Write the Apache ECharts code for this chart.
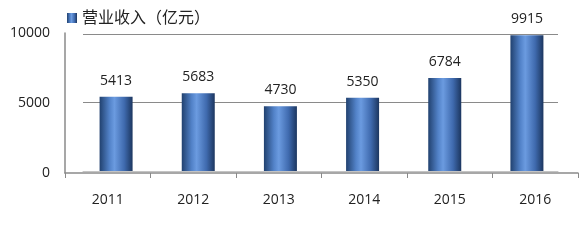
<!DOCTYPE html>
<html><head><meta charset="utf-8">
<script src="https://cdn.jsdelivr.net/npm/echarts@6/dist/echarts.min.js"></script>
<style>html,body{margin:0;padding:0;background:#fff}#c{width:582px;height:243px}</style>
</head><body><div id="c"></div>
<script>
const categories = ['2011','2012','2013','2014','2015','2016'];
const revenue = [5413, 5683, 4730, 5350, 6784, 9915];
const seriesName = '营业收入（亿元）';
const yTicks = {min: 0, max: 10000, interval: 5000};

const chart = echarts.init(document.getElementById('c'));
const font = '"Open Sans", "Noto Sans CJK SC", sans-serif';
const barColor = {
  type: 'linear', x: 0, y: 0, x2: 1, y2: 0,
  colorStops: [
    {offset: 0, color: '#21416f'},
    {offset: 0.3, color: '#5282c8'},
    {offset: 0.45, color: '#6b9be0'},
    {offset: 0.75, color: '#3f6aae'},
    {offset: 1, color: '#1c365f'}
  ]
};
chart.setOption({
  animation: false,
  legend: {
    data: [{name: seriesName, icon: 'rect'}],
    left: 62, top: 5, itemWidth: 10, itemHeight: 10, itemGap: 6,
    textStyle: {fontFamily: font, fontSize: 16, color: '#222'}
  },
  grid: [
    {left: 65, right: 4, top: 33, bottom: 70},
    {left: 83, right: 24, top: 34, bottom: 72},
    {left: 75, right: 14, top: 34, bottom: 72}
  ],
  xAxis: [
    {gridIndex: 0, type: 'category', data: categories,
     axisLine: {lineStyle: {color: '#8a8a8a', width: 1.5}},
     axisTick: {show: true, lineStyle: {color: '#8a8a8a'}, length: 5},
     axisLabel: {fontFamily: font, fontSize: 14, color: '#222', margin: 20}},
    {gridIndex: 1, type: 'category', data: categories,
     axisLine: {lineStyle: {color: '#c4c4c4', width: 1}},
     axisTick: {show: false}, axisLabel: {show: false}},
    {gridIndex: 2, type: 'category', data: categories, show: false}
  ],
  yAxis: [
    {gridIndex: 0, type: 'value', min: yTicks.min, max: yTicks.max, interval: yTicks.interval,
     axisLine: {show: true, lineStyle: {color: '#8a8a8a', width: 1.5}},
     axisTick: {show: false}, splitLine: {show: false},
     axisLabel: {fontFamily: font, fontSize: 14, color: '#222', margin: 15,
                 formatter: v => String(v)}},
    {gridIndex: 1, type: 'value', min: yTicks.min, max: yTicks.max, interval: yTicks.interval,
     axisLine: {show: false}, axisTick: {show: false}, axisLabel: {show: false},
     splitLine: {lineStyle: {color: '#8a8a8a', width: 1}}},
    {gridIndex: 2, type: 'value', min: yTicks.min, max: yTicks.max, show: false}
  ],
  series: [{
    name: seriesName, type: 'bar', xAxisIndex: 2, yAxisIndex: 2,
    data: revenue, barWidth: 33,
    itemStyle: {color: barColor},
    label: {show: true, position: 'top', distance: 9,
            fontFamily: font, fontSize: 14, color: '#222'}
  }]
});
</script></body></html>
